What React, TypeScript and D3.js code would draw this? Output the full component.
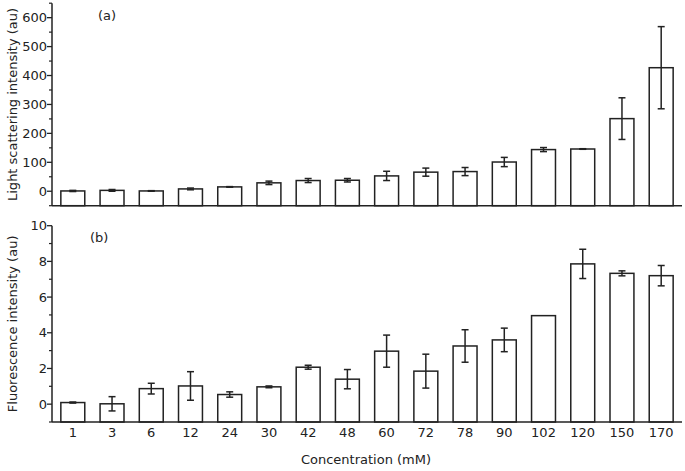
import React from "react";
import * as d3 from "d3";

const categories = ["1", "3", "6", "12", "24", "30", "42", "48", "60", "72", "78", "90", "102", "120", "150", "170"];
const scatterValues = [1, 3, 1, 8, 15, 29, 37, 38, 53, 66, 68, 101, 144, 146, 251, 427];
const scatterErrors = [2, 3, 1, 3, 1, 6, 7, 6, 16, 14, 14, 16, 7, 1, 72, 142];
const fluoValues = [0.09, 0.02, 0.87, 1.02, 0.54, 0.97, 2.07, 1.4, 2.97, 1.85, 3.26, 3.6, 4.96, 7.86, 7.33, 7.2];
const fluoErrors = [0.03, 0.4, 0.3, 0.8, 0.15, 0.05, 0.11, 0.54, 0.9, 0.95, 0.91, 0.66, 0, 0.82, 0.14, 0.57];
const scatterTicks = [0, 100, 200, 300, 400, 500, 600];
const scatterMinor = [-50, 50, 150, 250, 350, 450, 550, 650];
const fluoTicks = [0, 2, 4, 6, 8, 10];
const fluoMinor = [-1, 1, 3, 5, 7, 9];

const W = 685;
const H = 471;
const LEFT = 52;
const RIGHT = 682;
const INK = "#222";
const FONT = "'DejaVu Sans', Verdana, sans-serif";
const FS = 13;

const x = d3.scaleBand<string>().domain(categories).range([53, 681]).paddingInner(0.39).paddingOuter(0.2);

type PanelProps = {
  values: number[];
  errors: number[];
  y: d3.ScaleLinear<number, number>;
  ticks: number[];
  minor: number[];
  label: string;
  labelX: number;
  title: string;
};

function Panel({ values, errors, y, ticks, minor, label, labelX, title }: PanelProps) {
  const [y0, y1] = y.range();
  const base = y0;
  const bw = x.bandwidth();
  return (
    <g>
      {values.map((v, i) => {
        const c = categories[i];
        const bx = x(c)!;
        const top = y(v);
        return (
          <rect key={"b" + i} x={bx} y={top} width={bw} height={base - top} fill="#fff" stroke={INK} strokeWidth={1.5} />
        );
      })}
      {values.map((v, i) => {
        const e = errors[i];
        if (e <= 0) return null;
        const cx = x(categories[i])! + bw / 2;
        const a = y(v + e);
        const b = y(v - e);
        return (
          <g key={"e" + i} stroke={INK} strokeWidth={1.5}>
            <line x1={cx} x2={cx} y1={a} y2={b} />
            <line x1={cx - 3.5} x2={cx + 3.5} y1={a} y2={a} />
            <line x1={cx - 3.5} x2={cx + 3.5} y1={b} y2={b} />
          </g>
        );
      })}
      <line x1={LEFT} x2={LEFT} y1={y1} y2={y0} stroke={INK} strokeWidth={1.5} />
      <line x1={LEFT} x2={RIGHT} y1={y0} y2={y0} stroke={INK} strokeWidth={1.5} />
      {ticks.map((t) => (
        <g key={"t" + t}>
          <line x1={LEFT - 5} x2={LEFT} y1={y(t)} y2={y(t)} stroke={INK} strokeWidth={1.3} />
          <text x={LEFT - 5} y={y(t)} dy="0.35em" textAnchor="end" fontSize={FS} fill={INK} fontFamily={FONT}>
            {String(t)}
          </text>
        </g>
      ))}
      {minor.map((t) => (
        <line key={"m" + t} x1={LEFT - 3} x2={LEFT} y1={y(t)} y2={y(t)} stroke={INK} strokeWidth={1.2} />
      ))}
      <text x={labelX} y={y1 + 12} dy="0.35em" fontSize={FS} fill={INK} fontFamily={FONT}>
        {label}
      </text>
      <text
        transform={`translate(12,${(y0 + y1) / 2}) rotate(-90)`}
        textAnchor="middle"
        dy="0.35em"
        fontSize={FS}
        fill={INK}
        fontFamily={FONT}
      >
        {title}
      </text>
    </g>
  );
}

export default function App() {
  const yTop = d3.scaleLinear().domain([-50, 650]).range([205.7, 3.2]);
  const yBot = d3.scaleLinear().domain([-1, 10]).range([422, 225.7]);
  return (
    <svg width={W} height={H} style={{ position: "absolute", left: 0, top: 0, background: "#fff" }}>
      <rect width={W} height={H} fill="#fff" />
      <Panel
        values={scatterValues}
        errors={scatterErrors}
        y={yTop}
        ticks={scatterTicks}
        minor={scatterMinor}
        label="(a)"
        labelX={98}
        title="Light scattering intensity (au)"
      />
      <Panel
        values={fluoValues}
        errors={fluoErrors}
        y={yBot}
        ticks={fluoTicks}
        minor={fluoMinor}
        label="(b)"
        labelX={90}
        title="Fluorescence intensity (au)"
      />
      {categories.map((c) => (
        <text key={c} x={x(c)! + x.bandwidth() / 2} y={437} textAnchor="middle" fontSize={FS} fill={INK} fontFamily={FONT}>
          {c}
        </text>
      ))}
      <text x={366} y={464} textAnchor="middle" fontSize={FS} fill={INK} fontFamily={FONT}>
        Concentration (mM)
      </text>
    </svg>
  );
}
